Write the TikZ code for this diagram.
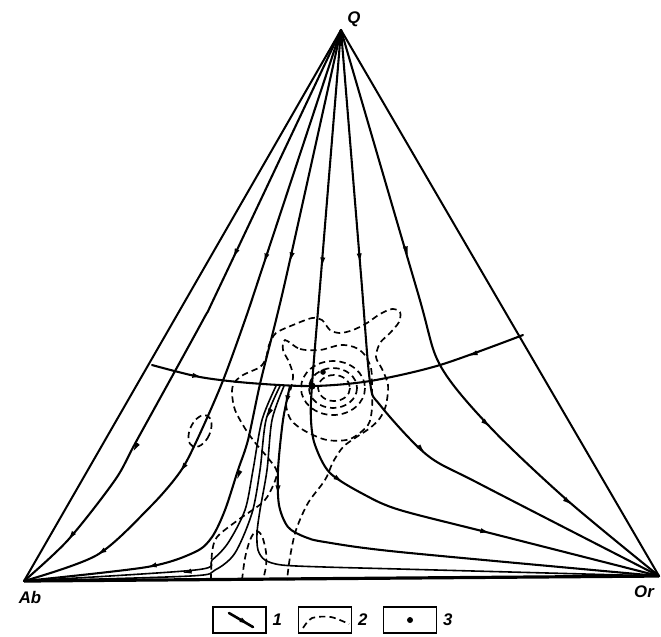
\documentclass[tikz,border=0pt]{standalone}
\usepackage{fontspec}
\setmainfont{Liberation Sans}
\usetikzlibrary{arrows.meta}
\newcommand\myarr[3]{\draw[ah] (#1) ++({-10*(#2)},{-10*(#3)}) -- (#1);}
\begin{document}
\begin{tikzpicture}[x=0.25pt,y=-0.25pt,
  crv/.style={line width=0.52pt, line cap=round, line join=round},
  thn/.style={line width=0.4pt, line cap=round, line join=round},
  dsh/.style={line width=0.42pt, dash pattern=on 1.6pt off 1.0pt},
  ah/.style={-{Latex[length=2.4pt,width=1.3pt]}, line width=0.4pt},
  lab/.style={font=\fontsize{4.2}{5}\selectfont\bfseries\itshape, inner sep=0pt},
  keybox/.style={draw, line width=0.45pt, minimum width=13.25pt, minimum height=6.5pt, inner sep=0pt}
]
\useasboundingbox (0,0) rectangle (661,636);
\coordinate (Q) at (341,30);
\coordinate (Ab) at (24,581);
\coordinate (Or) at (659,576);

% triangle
\draw[line width=0.5pt, line join=round] (Ab) -- (Q) -- (Or);
\draw[line width=0.8pt] (Ab) -- (Or);

% paths from Q to Ab
\draw[crv] plot[smooth] coordinates {(Q) (218,290) (203,320) (137,440) (115,480) (68,540) (Ab)};
\myarr{233,258}{-0.43}{0.90}
\myarr{133,452}{-0.48}{0.88}
\myarr{68,540}{-0.62}{0.78}
\draw[crv] plot[smooth] coordinates {(Q) (265,260) (245,320) (222,383) (197,440) (180,472) (150,507) (97,555) (Ab)};
\myarr{264,263}{-0.3}{0.95}
\myarr{180,472}{-0.57}{0.82}
\myarr{97,555}{-0.83}{0.55}
\draw[crv] plot[smooth] coordinates {(Q) (290,260) (276,320) (260,384) (248,440) (238,470) (225,510) (212,537) (195,552) (147,567) (Ab)};
\myarr{290,262}{-0.22}{0.97}
\myarr{237,480}{-0.3}{0.95}
\myarr{147,567}{-0.97}{0.22}

% paths from Q to Or
\draw[crv] plot[smooth] coordinates {(Q) (322,262) (312,385) (311,420) (315,445) (330,473) (365,495) (400,510) (490,533) (Or)};
\myarr{322,267}{-0.08}{1}
\myarr{343,482}{0.85}{0.53}
\myarr{490,533}{0.96}{0.25}
\draw[crv] plot[smooth] coordinates {(Q) (361,275) (370,382) (380,405) (427,455) (480,484) (Or)};
\myarr{360,263}{0.08}{1}
\myarr{425,453}{0.69}{0.72}
\draw[crv] plot[smooth] coordinates {(Q) (417,290) (440,365) (490,427) (567,500) (Or)};
\myarr{408,256}{0.28}{0.96}
\myarr{490,427}{0.73}{0.68}
\myarr{572,505}{0.77}{0.64}

% cotectic curve
\draw[crv] plot[smooth] coordinates {(152,365) (200,377) (250,383) (312,386) (370,381) (440,365) (523,335)};
\myarr{202,377}{0.97}{0.17}
\myarr{468,356}{-0.94}{0.34}

% bundle of paths below the minimum
\draw[thn] plot[smooth] coordinates {(276,386) (262,420) (253,470) (245,510) (228,543) (212,560) (195,570) (Ab)};
\myarr{182,573}{-0.97}{0.2}
\draw[thn] plot[smooth] coordinates {(280,386) (266,420) (260,470) (252,513) (235,553) (215,570) (190,576) (Ab)};
\myarr{267,418}{-0.38}{0.92}
\draw[thn] plot[smooth] coordinates {(284,386) (272,420) (267,470) (260,510) (257,533) (258,550) (265,560) (282,565) (325,567) (400,569) (Or)};
\draw[crv] plot[smooth] coordinates {(290,386) (283,420) (278,470) (279,505) (288,527) (305,537) (325,542) (400,552) (Or)};
\myarr{286,405}{-0.2}{0.98}
\myarr{278,495}{0}{1}

% dashed contours
\draw[dsh] plot[smooth] coordinates {(211,580) (212,553) (217,537) (238,520) (262,503) (271,490) (277,472) (268,458) (257,445) (246,430) (235,410) (232,393) (234,383) (243,375) (260,367) (266,358) (269,345) (276,333) (293,325) (312,318) (322,320) (330,330) (340,333) (353,330) (367,323) (380,314) (392,309) (400,312) (399,322) (390,333) (380,343) (376,357) (382,369) (388,385) (386,405) (380,418) (370,428) (355,438) (343,447) (333,462) (325,480) (308,503) (296,530) (290,557) (287,580)};
\draw[dsh] plot[smooth cycle] coordinates {(285,340) (300,349) (320,350) (340,345) (354,347) (364,354) (371,368) (372,388) (372,408) (368,425) (350,439) (327,440) (305,431) (291,420) (286,404) (291,388) (293,375) (289,362) (283,350)};
\draw[dsh] (333,388) ellipse [x radius=32, y radius=27];
\draw[dsh] (333,388) ellipse [x radius=24, y radius=20];
\draw[dsh] (334,388) ellipse [x radius=16, y radius=13];
\draw[dsh] (200,431) ellipse [x radius=10, y radius=17, rotate=-25];
\draw[dsh] plot[smooth] coordinates {(242,580) (245,558) (250,540) (256,531) (262,536) (266,552) (266,566) (263,580)};

% minimum points
\fill (312,386) circle (0.9pt);
\fill (323,372) circle (0.7pt);

% labels
\node[lab] (lQ) at (354,19) {Q};
\node[lab] (lAb) at (30,597) {Ab};
\node[lab] (lOr) at (644,592) {Or};

% legend
\node[keybox] (k1) at (239.5,620) {};
\node[keybox] (k2) at (325,620) {};
\node[keybox] (k3) at (410,620) {};
\node[lab, anchor=west] (t1) at (k1.east) [xshift=1.25pt] {1};
\node[lab, anchor=west] (t2) at (k2.east) [xshift=1.25pt] {2};
\node[lab, anchor=west] (t3) at (k3.east) [xshift=1.25pt] {3};
\coordinate (k1a) at (229,613);
\coordinate (k1b) at (253,627);
\draw[crv, line width=0.65pt] (k1a) -- (k1b);
\myarr{249,624.5}{0.86}{0.5}
\draw[dsh] plot[smooth] coordinates {(303,628) (312,618) (331,617) (349,624)};
\fill (k3.center) circle (0.75pt);
\end{tikzpicture}
\end{document}
